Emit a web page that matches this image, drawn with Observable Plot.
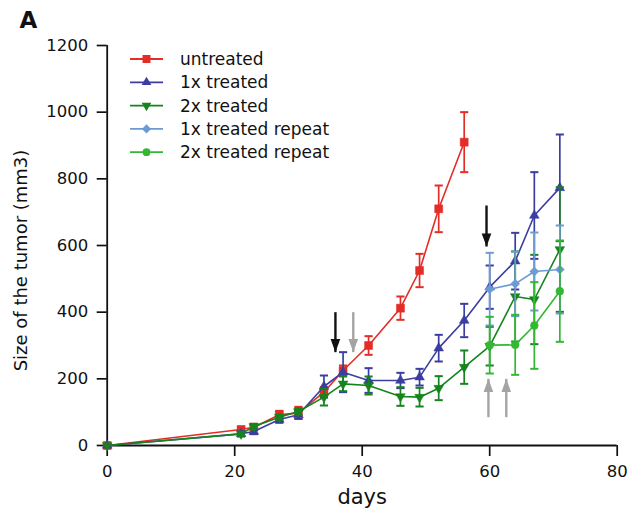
<!DOCTYPE html>
<html><head><meta charset="utf-8">
<script src="https://cdn.jsdelivr.net/npm/d3@7"></script>
<script src="https://cdn.jsdelivr.net/npm/@observablehq/plot@0.6"></script>
<style>
body{margin:0;background:#fff;}
#wrap{position:relative;width:637px;height:515px;}
</style></head><body><div id="wrap"></div>
<script>
// ---- data ----
const seriesNames = ["untreated","1x treated","2x treated","1x treated repeat","2x treated repeat"];
const seriesColors = ["#e32d26","#3b3ea0","#15841c","#6c9bd4","#32b832"];

const untreatedDays  = [0,21,23,27,30,34,37,41,46,49,52,56];
const untreatedVals  = [0,48,55,92,98,160,225,300,412,525,710,910];
const untreatedErr   = [0,8,8,12,18,15,15,28,35,50,70,90];

const treated1Days = [0,21,23,27,30,34,37,41,46,49,52,56,60,64,67,71];
const treated1Vals = [0,35,42,78,92,177,220,195,195,205,292,375,475,553,690,773];
const treated1Err  = [0,8,8,10,12,33,60,37,23,25,40,50,65,85,130,160];

const treated2Days = [0,21,23,27,30,34,37,41,46,49,52,56,60,64,67,71];
const treated2Vals = [0,35,57,85,102,145,185,180,147,145,172,235,298,447,438,588];
const treated2Err  = [0,6,8,8,10,25,22,27,28,28,36,50,58,135,134,187];

const repeat1Days = [60,64,67,71];
const repeat1Vals = [469,485,522,528];
const repeat1Err  = [109,97,117,132];

const repeat2Days = [60,64,67,71];
const repeat2Vals = [301,302,360,463];
const repeat2Err  = [85,90,130,152];

// treatment arrows (annotation)
const arrowDays  = [35.8, 38.6, 59.5, 59.8, 62.6];
const arrowFrom  = [400, 400, 720, 85, 85];
const arrowTo    = [280, 280, 597, 200, 200];
const arrowShade = ["black","gray","black","gray","gray"];

const xTicks = [0,20,40,60,80];
const yTicks = [0,200,400,600,800,1000,1200];

// ---- build tables ----
const seriesData = [
  [untreatedDays, untreatedVals, untreatedErr],
  [treated1Days, treated1Vals, treated1Err],
  [treated2Days, treated2Vals, treated2Err],
  [repeat1Days, repeat1Vals, repeat1Err],
  [repeat2Days, repeat2Vals, repeat2Err]
];
const tables = seriesData.map(([ds, vs, es], i) =>
  ds.map((d, j) => ({series: seriesNames[i], day: d, value: vs[j], err: es[j]})));

const arrows = arrowDays.map((d, i) => ({day: d, from: arrowFrom[i], to: arrowTo[i],
  up: arrowTo[i] > arrowFrom[i], color: arrowShade[i] === "black" ? "#111" : "#a4a4a4"}));

// custom symbols
const capSymbol = {draw(ctx, size){ const w = Math.sqrt(size); ctx.moveTo(-w, 0); ctx.lineTo(w, 0); }};
const headSymbol = {draw(ctx, size){ const s = Math.sqrt(size); ctx.moveTo(0, 0); ctx.lineTo(-s*0.46, -s*1.25); ctx.lineTo(s*0.46, -s*1.25); ctx.closePath(); }};
const triDown = {draw(ctx, size){ const y = -Math.sqrt(size / (Math.sqrt(3) * 3)); ctx.moveTo(0, -y*2); ctx.lineTo(-Math.sqrt(3)*y, y); ctx.lineTo(Math.sqrt(3)*y, y); ctx.closePath(); }};

const symbolSpec = [
  {symbol: "square", r: 4.5},
  {symbol: "triangle", r: 3.6},
  {symbol: triDown, r: 3.6},
  {symbol: "diamond2", r: 4.1},
  {symbol: "circle", r: 3.9}
];

const marks = [];
tables.forEach((rows, i) => {
  const c = seriesColors[i];
  const er = rows.filter(d => d.err > 0);
  marks.push(Plot.ruleX(er, {x: "day", y1: d => d.value - d.err, y2: d => d.value + d.err, stroke: c, strokeWidth: 1.7}));
  marks.push(Plot.dot(er, {x: "day", y: d => d.value + d.err, symbol: capSymbol, r: 2.3, stroke: c, strokeWidth: 2, fill: "none"}));
  marks.push(Plot.dot(er, {x: "day", y: d => d.value - d.err, symbol: capSymbol, r: 2.3, stroke: c, strokeWidth: 2, fill: "none"}));
  marks.push(Plot.line(rows, {x: "day", y: "value", stroke: c, strokeWidth: 1.6}));
  marks.push(Plot.dot(rows, {x: "day", y: "value", symbol: symbolSpec[i].symbol, r: symbolSpec[i].r, fill: c, stroke: c, strokeWidth: 0.5}));
});

const chart = Plot.plot({
  width: 637, height: 515,
  marginLeft: 106.7, marginRight: 20.3, marginTop: 45, marginBottom: 70,
  style: {fontFamily: "DejaVu Sans", fontSize: "16.5px", color: "#111", background: "white"},
  x: {domain: [0, 80]},
  y: {domain: [0, 1200]},
  marks: [
    Plot.axisY({ticks: yTicks, tickSize: 10, tickPadding: 9, tickFormat: d => String(d), label: null, strokeWidth: 1.7, fontSize: 16.5}),
    Plot.axisX({ticks: xTicks, tickSize: 11, tickPadding: 9, tickFormat: d => String(d), label: null, strokeWidth: 1.7, fontSize: 16.5}),
    Plot.ruleX([0], {y1: 0, y2: 1200, strokeWidth: 1.8, stroke: "#111"}),
    Plot.ruleY([0], {x1: 0, x2: 80, strokeWidth: 1.8, stroke: "#111"}),
    ...marks,
    Plot.link(arrows, {x1: "day", x2: "day", y1: "from", y2: "to", stroke: "color", strokeWidth: 2.4}),
    Plot.dot(arrows, {x: "day", y: "to", symbol: headSymbol, r: 5.9, fill: "color", stroke: "none", rotate: d => d.up ? 180 : 0}),
    Plot.text(["days"], {frameAnchor: "bottom", dy: 52, fontSize: 21, lineAnchor: "middle", textAnchor: "middle", fill: "#111"}),
    Plot.text(["Size of the tumor (mm3)"], {frameAnchor: "left", rotate: -90, dx: -86, dy: 15, fontSize: 18, lineAnchor: "middle", textAnchor: "middle", fill: "#111"}),
    Plot.text(["A"], {frameAnchor: "top-left", dx: -87.7, dy: -24.5, fontSize: 23, fontWeight: "bold", textAnchor: "start", lineAnchor: "middle", fill: "#111"})
  ]
});
document.getElementById("wrap").appendChild(chart);

// ---- legend (inside the plot area) ----
const svg = d3.select(chart);
const lg = svg.append("g").attr("font-family", "DejaVu Sans").attr("font-size", "17px").attr("text-anchor", "start");
const symMap = {square: d3.symbolSquare, triangle: d3.symbolTriangle, diamond2: d3.symbolDiamond2, circle: d3.symbolCircle};
seriesNames.forEach((name, i) => {
  const y = 59 + i * 23.3;
  const g = lg.append("g").attr("transform", `translate(0,${y})`);
  g.append("line").attr("x1", 130).attr("x2", 163).attr("y1", 0).attr("y2", 0)
    .attr("stroke", seriesColors[i]).attr("stroke-width", 1.8);
  const spec = symbolSpec[i];
  const sym = typeof spec.symbol === "string" ? symMap[spec.symbol] : spec.symbol;
  g.append("path").attr("d", d3.symbol(sym, Math.PI * spec.r * spec.r)())
    .attr("transform", "translate(146.5,0)").attr("fill", seriesColors[i]);
  g.append("text").attr("x", 180).attr("y", 0).attr("dy", "0.35em").attr("text-anchor", "start").attr("fill", "#111").text(name);
});
</script></body></html>
